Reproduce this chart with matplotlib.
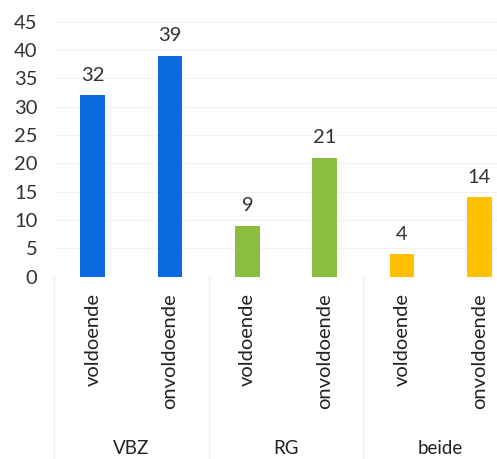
import matplotlib
matplotlib.use("Agg")
import matplotlib.pyplot as plt
import numpy as np

groups = ["VBZ", "RG", "beide"]
categories = ["voldoende", "onvoldoende"] * 3
values = [32, 39, 9, 21, 4, 14]
group_colors = ["#0b6bde", "#8bbd3e", "#ffc000"]
yticks = [0, 5, 10, 15, 20, 25, 30, 35, 40, 45]

plt.rcParams['font.family'] = ['Lato', 'DejaVu Sans']

fig = plt.figure(figsize=(4.97, 4.59), dpi=100)
ax = fig.add_axes([0.109, 0.397, 0.933, 0.556])

x = np.arange(len(values))
colors = [group_colors[i // 2] for i in range(len(values))]
bars = ax.bar(x, values, width=0.32, color=colors, zorder=3)
for xi, v in zip(x, values):
    ax.text(xi, v + 2.0, str(v), ha="center", va="bottom", fontsize=14.5, color="#333333")

ax.set_xlim(-0.5, len(values) - 0.5)
ax.set_ylim(0, 45)
ax.set_yticks(yticks)
ax.set_yticklabels([str(t) for t in yticks], fontsize=14.5, color="#333333")
ax.yaxis.grid(True, color="#f2f2f2", linewidth=0.8, zorder=0)
ax.tick_params(axis="y", length=0, pad=12)
ax.set_xticks(x)
ax.set_xticklabels(categories, rotation=90, fontsize=14.5, color="#222222", va="top")
ax.tick_params(axis="x", length=0, pad=12)
for s in ax.spines.values():
    s.set_visible(False)

# group separators and labels
for g in range(len(groups) + 1):
    xs = g * 2 - 0.5
    ax.plot([xs, xs], [0, -32], color="#eeeeee", linewidth=1, clip_on=False)
for g, name in enumerate(groups):
    ax.text(g * 2 + 0.5, -30.2, name, ha="center", va="center", fontsize=13.5, color="#222222")

fig.savefig("out.png", dpi=100)
